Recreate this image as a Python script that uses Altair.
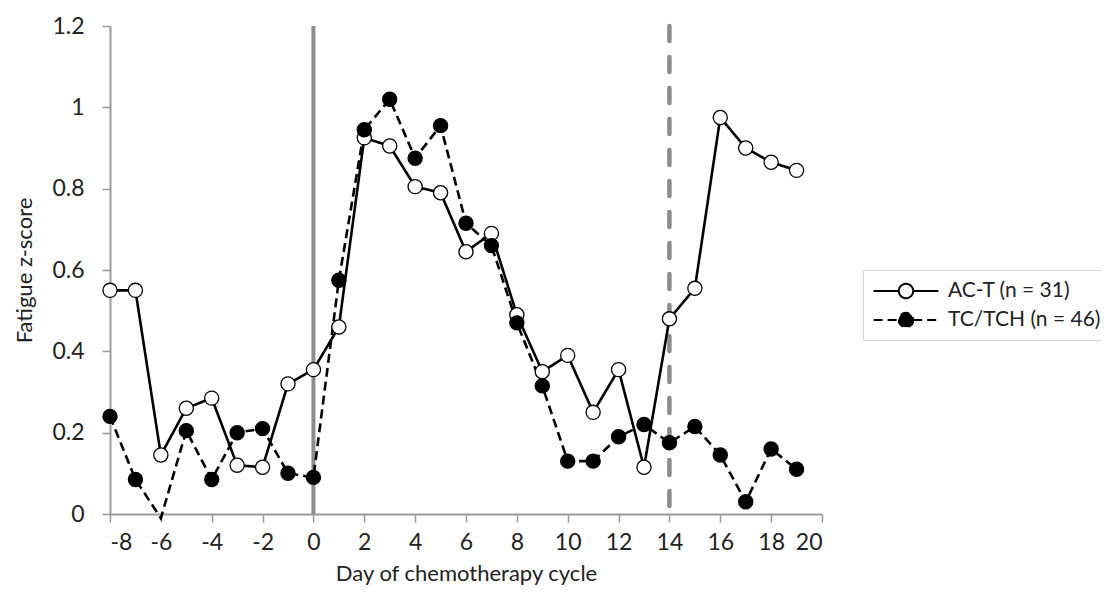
import altair as alt
import pandas as pd

days = list(range(-8, 20))
act_values = [0.55, 0.55, 0.145, 0.26, 0.285, 0.12, 0.115, 0.32, 0.355, 0.46,
              0.925, 0.905, 0.805, 0.79, 0.645, 0.69, 0.49, 0.35, 0.39, 0.25,
              0.355, 0.115, 0.48, 0.555, 0.975, 0.9, 0.865, 0.845]
tch_values = [0.24, 0.085, -0.01, 0.205, 0.085, 0.2, 0.21, 0.1, 0.09, 0.575,
              0.945, 1.02, 0.875, 0.955, 0.715, 0.66, 0.47, 0.315, 0.13, 0.13,
              0.19, 0.22, 0.175, 0.215, 0.145, 0.03, 0.16, 0.11]
series_names = ["AC-T (n = 31)", "TC/TCH (n = 46)"]
x_ticks = list(range(-8, 21, 2))
y_ticks = [0, 0.2, 0.4, 0.6, 0.8, 1, 1.2]
cycle_start = [0]
cycle_next = [14]

rows = []
for d, a, t in zip(days, act_values, tch_values):
    rows.append({"day": d, "value": a, "series": series_names[0]})
    rows.append({"day": d, "value": t, "series": series_names[1]})
df = pd.DataFrame(rows)

FONT = "Lato"
LEG_SYMBOL = ("M-2.7,0 L-0.6,0 M0.6,0 L2.7,0 "
              "M0.6,0 A0.6,0.6 0 1 1 -0.6,0 A0.6,0.6 0 1 1 0.6,0 Z")

x_enc = alt.X("day:Q", scale=alt.Scale(domain=[-8, 20], nice=False),
              axis=alt.Axis(values=x_ticks, labelExpr="datum.value + ''",
                            title="Day of chemotherapy cycle"))
y_enc = alt.Y("value:Q", scale=alt.Scale(domain=[0, 1.2], nice=False),
              axis=alt.Axis(values=y_ticks, labelExpr="datum.value + ''",
                            title="Fatigue z-score"))

legend = alt.Legend(title=None, symbolType=LEG_SYMBOL)

lines = alt.Chart(df).mark_line(color="black", strokeWidth=2.6).encode(
    x=x_enc, y=y_enc,
    strokeDash=alt.StrokeDash("series:N",
                              scale=alt.Scale(domain=series_names, range=[[1, 0], [9, 5]]),
                              legend=legend),
)

points = alt.Chart(df).transform_filter("datum.value >= 0").mark_point(
    shape="circle", size=200, stroke="black", strokeWidth=1.3, opacity=1
).encode(
    x="day:Q", y="value:Q",
    fill=alt.Fill("series:N",
                  scale=alt.Scale(domain=series_names, range=["white", "black"]),
                  legend=legend),
)

rule0 = alt.Chart(pd.DataFrame({"day": cycle_start, "top": [1.2], "bottom": [0]})).mark_rule(
    color="#8c8c8c", strokeWidth=4
).encode(x="day:Q", y="top:Q", y2="bottom:Q")

rule14 = alt.Chart(pd.DataFrame({"day": cycle_next, "top": [1.2], "bottom": [0]})).mark_rule(
    color="#8c8c8c", strokeWidth=4.5, strokeDash=[15, 16], strokeCap="round"
).encode(x="day:Q", y="top:Q", y2="bottom:Q")

chart = alt.layer(rule0, rule14, lines, points).properties(
    width=712, height=488,
    autosize=alt.AutoSizeParams(type="none"),
    padding={"left": 102, "top": 18, "right": 279, "bottom": 77},
).configure_view(stroke=None).configure_axis(
    grid=False,
    domainColor="#9a9a9a", domainWidth=2,
    tickColor="#9a9a9a", tickWidth=1.5, tickSize=8,
    labelFont=FONT, labelFontSize=23, labelColor="#222222",
    titleFont=FONT, titleFontWeight="normal", titleColor="#222222",
).configure_axisX(
    labelPadding=9, titleFontSize=22, titlePadding=9,
).configure_axisY(
    labelPadding=18, titleFontSize=22, titlePadding=15,
).configure_legend(
    orient="none", legendX=753, legendY=244,
    strokeColor="#d4d4d4", padding=8, fillColor="white",
    symbolSize=576, symbolStrokeColor="black", symbolStrokeWidth=2,
    symbolOffset=22, labelOffset=29, rowPadding=4,
    labelFont=FONT, labelFontSize=21, labelColor="#222222",
)

chart.save("out.html", embed_options={"renderer": "svg", "actions": False})
